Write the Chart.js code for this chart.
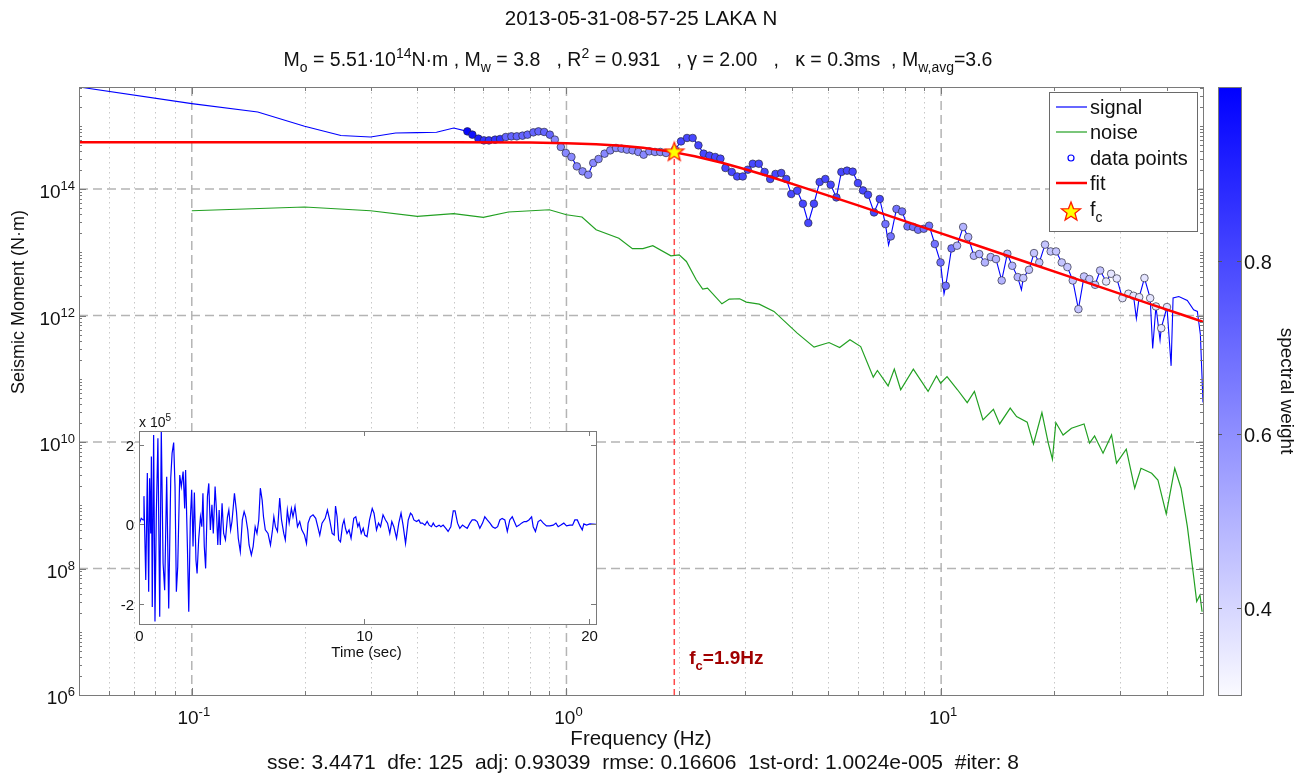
<!DOCTYPE html>
<html>
<head>
<meta charset="utf-8">
<title>2013-05-31-08-57-25 LAKA N</title>
<script src="https://cdn.jsdelivr.net/npm/chart.js@4.4.1/dist/chart.umd.min.js"></script>
<style>
  body { margin: 0; background: #fff; }
  #wrap { position: relative; width: 1307px; height: 774px; }
  #wrap canvas { position: absolute; left: 0; top: 0; }
</style>
</head>
<body>
<div id="wrap">
  <canvas id="spectrum" width="1307" height="774"></canvas>
  <canvas id="inset" width="1307" height="774"></canvas>
</div>
<script>
// ---- text ----
const titleMain = '2013-05-31-08-57-25 LAKA N';
const titleParams = [['M', ''], ['o', 'sub'], [' = 5.51·10', ''], ['14', 'sup'], ['N·m , M', ''], ['w', 'sub'],
  [' = 3.8   , R', ''], ['2', 'sup'], [' = 0.931   , γ = 2.00   ,   κ = 0.3ms  , M', ''], ['w,avg', 'sub'], ['=3.6', '']];
const xTitle = 'Frequency (Hz)';
const yTitle = 'Seismic Moment (N·m)';
const statsLine = 'sse: 3.4471  dfe: 125  adj: 0.93039  rmse: 0.16606  1st-ord: 1.0024e-005  #iter: 8';
const legendLabels = ['signal', 'noise', 'data points', 'fit', 'f'];
const cbTitle = 'spectral weight';
const cornerLabel = '=1.9Hz';

// ---- axes ----
const xMajorTicks = [0.1, 1, 10];
const xMinorTicks = [0.06, 0.07, 0.08, 0.09, 0.2, 0.3, 0.4, 0.5, 0.6, 0.7, 0.8, 0.9,
  2, 3, 4, 5, 6, 7, 8, 9, 20, 30, 40];
const yMajorTicks = [1e6, 1e8, 1e10, 1e12, 1e14];
const cbTicks = [0.4, 0.6, 0.8];
const cbMin = 0.3, cbMax = 1.0;

// ---- signal spectrum (parts not covered by the data points) ----
const signalFreqExtra = [0.05, 0.1, 0.15, 0.2, 0.25, 0.3, 0.35, 0.4, 0.45, 0.5,
  7.24, 10.18, 16.38, 33.2, 36.7, 38.4, 41.1, 41.6, 43.1, 45.4, 47.2, 48.3, 49.2, 50];
const signalMomentExtra = [4.1e15, 2.24e15, 1.65e15, 9.8e14, 7.0e14, 6.65e14, 7.7e14, 7.8e14, 7.9e14, 9.2e14,
  1.3e13, 2.2e12, 2.55e12, 9e11, 3e11, 4.1e11, 1.6e11, 1.9e12, 2.0e12, 1.73e12, 1.23e12, 1.16e12, 5e11, 4.2e10];

// ---- data points used in the fit ----
const pointFreq = [0.544, 0.561, 0.582, 0.602, 0.621, 0.645, 0.665, 0.689, 0.713, 0.737,
  0.763, 0.787, 0.816, 0.842, 0.872, 0.903, 0.931, 0.966, 0.996, 1.031,
  1.066, 1.104, 1.143, 1.179, 1.218, 1.264, 1.309, 1.356, 1.403, 1.450,
  1.501, 1.555, 1.607, 1.664, 1.723, 1.780, 1.844, 1.95, 2.022, 2.098,
  2.172, 2.250, 2.324, 2.407, 2.494, 2.576, 2.657, 2.762, 2.855, 2.955,
  3.048, 3.143, 3.262, 3.379, 3.498, 3.614, 3.744, 3.861, 3.981, 4.130,
  4.276, 4.421, 4.576, 4.740, 4.909, 5.072, 5.253, 5.417, 5.608, 5.807,
  5.999, 6.185, 6.379, 6.622, 6.858, 7.102, 7.338, 7.600, 7.867, 8.133,
  8.418, 8.681, 8.989, 9.288, 9.620, 9.963, 10.29, 10.66, 11.03, 11.45,
  11.81, 12.23, 12.64, 13.09, 13.56, 14.01, 14.51, 15.02, 15.48, 16.01,
  16.57, 17.16, 17.70, 18.28, 18.94, 19.61, 20.27, 20.99, 21.73, 22.46,
  23.25, 24.07, 24.87, 25.76, 26.57, 27.57, 28.43, 29.44, 30.48, 31.62,
  32.62, 33.78, 34.89, 36.14, 37.44, 38.68, 40.07];
const pointMoment = [8.15e14, 7.23e14, 6.25e14, 5.87e14, 5.87e14, 6.03e14, 6.18e14, 6.65e14, 6.8e14, 6.8e14,
  6.97e14, 7.23e14, 7.86e14, 8.15e14, 7.98e14, 7.23e14, 6.03e14, 4.62e14, 3.71e14, 3.21e14,
  2.28e14, 1.90e14, 1.68e14, 2.58e14, 2.98e14, 3.62e14, 4.08e14, 4.45e14, 4.34e14, 4.19e14,
  4.08e14, 3.85e14, 3.49e14, 3.94e14, 3.85e14, 3.85e14, 3.71e14, 4.19e14, 5.66e14, 6.41e14,
  6.41e14, 4.90e14, 3.62e14, 3.37e14, 3.21e14, 3.02e14, 2.15e14, 1.86e14, 1.58e14, 1.58e14,
  2.02e14, 2.51e14, 2.51e14, 1.86e14, 1.44e14, 1.73e14, 1.79e14, 1.44e14, 8.34e13, 9.40e13,
  5.85e13, 2.90e13, 5.85e13, 1.29e14, 1.44e14, 1.17e14, 7.36e13, 1.86e14, 1.95e14, 1.88e14,
  1.24e14, 9.5e13, 8.12e13, 4.26e13, 6.95e13, 2.79e13, 1.78e13, 4.83e13, 4.42e13, 2.56e13,
  2.51e13, 2.27e13, 2.35e13, 2.63e13, 1.35e13, 6.9e12, 2.95e12, 1.15e13, 1.27e13, 2.51e13,
  1.74e13, 8.8e12, 9.37e12, 6.9e12, 8.4e12, 7.8e12, 3.58e12, 9.46e12, 6.11e12, 4.05e12,
  3.91e12, 5.28e12, 9.7e12, 6.9e12, 1.32e13, 1.03e13, 1.03e13, 6.9e12, 5.83e12, 3.58e12,
  1.26e12, 4.14e12, 3.77e12, 3.06e12, 5.15e12, 3.45e12, 4.57e12, 3.85e12, 1.88e12, 2.21e12,
  2.05e12, 1.95e12, 3.91e12, 1.88e12, 1.39e12, 6.3e11, 1.36e12];
const pointWeight = [0.98, 0.95, 0.92, 0.86, 0.86, 0.86, 0.86,
  0.72, 0.72, 0.72, 0.72, 0.72, 0.72, 0.72, 0.72, 0.72,
  0.62, 0.62, 0.62, 0.62, 0.62, 0.62, 0.62, 0.62, 0.62, 0.62, 0.62,
  0.62, 0.62, 0.62, 0.62, 0.62, 0.62, 0.62, 0.62, 0.62, 0.62,
  0.66,
  0.8, 0.8, 0.8, 0.8, 0.8, 0.8, 0.8, 0.8, 0.8, 0.8,
  0.8, 0.8, 0.8, 0.8, 0.8, 0.8, 0.8, 0.8, 0.8, 0.8,
  0.8, 0.8, 0.8, 0.8, 0.8, 0.8, 0.8, 0.8, 0.8, 0.8,
  0.8, 0.8, 0.8, 0.8, 0.8, 0.8, 0.8,
  0.68, 0.68, 0.68, 0.68, 0.68, 0.68, 0.68, 0.68, 0.68, 0.68, 0.68, 0.68, 0.68,
  0.5, 0.5, 0.5, 0.5, 0.5, 0.5, 0.5, 0.5, 0.5, 0.5, 0.5, 0.5,
  0.45, 0.45, 0.45, 0.45, 0.45, 0.45, 0.45, 0.45, 0.45, 0.45, 0.45, 0.45, 0.45, 0.45, 0.45,
  0.36, 0.36, 0.36, 0.36, 0.36, 0.36, 0.36, 0.36, 0.36, 0.36, 0.36, 0.36];

// ---- noise spectrum ----
const noiseFreq = [0.1, 0.2, 0.3, 0.4, 0.5, 0.6, 0.7, 0.9, 1.0, 1.1, 1.2, 1.38, 1.5, 1.6, 1.7, 1.9, 2.0, 2.09,
  2.22, 2.31, 2.38, 2.6, 2.72, 2.9, 3.02, 3.27, 3.58, 4.13, 4.58, 5.02, 5.36, 5.71, 6.1, 6.59, 6.76, 7.22,
  7.5, 7.8, 8.43, 9.23, 9.72, 9.97, 10.37, 11.06, 11.74, 12.27, 12.93, 13.79, 14.33, 15.29, 15.9, 16.97,
  17.64, 18.58, 19.32, 19.82, 20.24, 21.16, 22.28, 24.07, 24.9, 25.68, 27.05, 28.5, 29.39, 31.2, 32.86,
  34.15, 36.47, 37.9, 39.89, 42.03, 43.69, 45.42, 47.22, 48.1, 49.08, 49.72];
const noiseMoment = [4.53e13, 5.19e13, 4.53e13, 3.68e13, 4.07e13, 3.55e13, 4.33e13, 4.7e13, 3.92e13, 3.61e13,
  2.27e13, 1.67e13, 1.14e13, 1.14e13, 1.27e13, 8.8e12, 9.1e12, 7.15e12, 3.67e12, 2.62e12, 2.71e12, 1.53e12,
  1.82e12, 1.84e12, 1.63e12, 1.51e12, 1.16e12, 5.27e11, 3.16e11, 3.74e11, 3.12e11, 4.13e11, 3.23e11, 1.06e11,
  1.35e11, 7.7e10, 1.42e11, 6.7e10, 1.42e11, 6.3e10, 1.11e11, 8.5e10, 1.08e11, 6.7e10, 4.2e10, 6.3e10, 2.24e10,
  3.3e10, 1.93e10, 3.43e10, 2.52e10, 2.06e10, 9.3e9, 2.92e10, 9.6e9, 5.35e9, 2.03e10, 1.29e10, 1.65e10,
  1.93e10, 9.6e9, 1.25e10, 6.65e9, 1.29e10, 4.62e9, 7.7e9, 1.86e9, 3.85e9, 3.2e9, 2.51e9, 7.3e8, 3.85e9,
  1.86e9, 4.6e8, 7.4e7, 3.0e7, 3.8e7, 2.07e7];

// ---- fitted source spectrum ----
const fitFreq = [0.05, 0.2, 0.5, 0.8, 1.0, 1.2, 1.4, 1.6, 1.9, 2.2, 2.6, 3.0, 3.5, 4.2, 5, 6, 8, 10, 13, 17, 22, 28, 36, 44, 50];
const fitMoment = [5.51e14, 5.51e14, 5.50e14, 5.43e14, 5.31e14, 5.12e14, 4.84e14, 4.49e14, 3.90e14, 3.29e14,
  2.60e14, 2.05e14, 1.56e14, 1.10e14, 7.87e13, 5.50e13, 3.10e13, 1.99e13, 1.18e13, 6.88e12, 4.11e12,
  2.54e12, 1.53e12, 1.03e12, 7.95e11];
const cornerFreq = 1.94;
const cornerMoment = 3.81e14;

// ---- inset waveform ----
const waveTime = [0, 0.10, 0.18, 0.22, 0.30, 0.37, 0.43, 0.47, 0.52, 0.55, 0.59, 0.65, 0.71, 0.77, 0.84, 0.92,
  0.99, 1.07, 1.14, 1.23, 1.32, 1.41, 1.47, 1.54, 1.60, 1.66, 1.72, 1.81, 1.88, 1.96, 2.03, 2.07, 2.15, 2.21,
  2.28, 2.34, 2.40, 2.46, 2.53, 2.58, 2.65, 2.73, 2.79, 2.84, 2.90, 2.96, 3.04, 3.10, 3.17, 3.24, 3.30, 3.38,
  3.44, 3.50, 3.56, 3.61, 3.69, 3.76, 3.84, 3.93, 3.99, 4.07, 4.13, 4.24, 4.33, 4.41, 4.50, 4.59, 4.67, 4.74,
  4.83, 4.89, 4.99, 5.07, 5.16, 5.24, 5.32, 5.39, 5.47, 5.53, 5.61, 5.73, 5.84, 5.93, 5.99, 6.06, 6.15, 6.25,
  6.33, 6.43, 6.50, 6.59, 6.67, 6.77, 6.84, 6.93, 7.04, 7.14, 7.23, 7.35, 7.44, 7.51, 7.61, 7.73, 7.85, 7.94,
  8.03, 8.13, 8.27, 8.37, 8.47, 8.58, 8.67, 8.73, 8.80, 8.87, 8.95, 9.04, 9.11, 9.17, 9.24, 9.33, 9.42, 9.54,
  9.63, 9.72, 9.78, 9.87, 9.96, 10.03, 10.13, 10.24, 10.36, 10.44, 10.55, 10.64, 10.73, 10.84, 10.95, 11.04,
  11.14, 11.23, 11.32, 11.44, 11.54, 11.64, 11.73, 11.84, 11.96, 12.06, 12.13, 12.21, 12.33, 12.43, 12.50,
  12.59, 12.70, 12.80, 12.89, 12.99, 13.07, 13.14, 13.21, 13.33, 13.41, 13.51, 13.63, 13.73, 13.85, 13.96,
  14.04, 14.15, 14.25, 14.37, 14.47, 14.58, 14.70, 14.80, 14.92, 15.02, 15.14, 15.26, 15.36, 15.47, 15.59,
  15.70, 15.82, 15.93, 16.03, 16.13, 16.25, 16.36, 16.47, 16.58, 16.67, 16.77, 16.89, 16.99, 17.11, 17.21,
  17.32, 17.44, 17.51, 17.61, 17.73, 17.84, 17.96, 18.10, 18.25, 18.40, 18.52, 18.62, 18.74, 18.87, 18.99,
  19.14, 19.26, 19.36, 19.47, 19.59, 19.69, 19.76, 19.88, 20.03, 20.30];
const waveAmp = [0, 15000, 11000, 71000, -140000, 129000, -170000, 116000, -23000, 171000, -208000, 225000,
  -245000, 28000, 217000, -233000, 238000, -98000, -166000, 120000, -212000, 116000, 179000, 206000, 95000,
  -170000, -107000, 124000, 95000, 133000, 40000, 137000, -56000, -220000, 11000, 87000, -56000, 80000,
  -90000, -124000, -39000, 19000, -6000, 78000, -56000, -111000, 70000, 103000, -14000, 49000, -23000, 95000,
  36000, -52000, 36000, -52000, 53000, -23000, -39000, 19000, 36000, -14000, 7000, 78000, 32000, -35000,
  -69000, 11000, 32000, 19000, -14000, -52000, -77000, -56000, -6000, -23000, 11000, 91000, 61000, 19000,
  -14000, -23000, -52000, -14000, 19000, -6000, -18000, 66000, 11000, -23000, -39000, 36000, 3000, 40000,
  19000, 45000, -6000, 7000, -14000, -27000, -48000, 3000, 19000, 24000, 15000, -6000, -27000, 3000, 15000,
  36000, 11000, -23000, -27000, 46000, 19000, -39000, -44000, -2000, 11000, -10000, -23000, -14000, -35000,
  15000, 19000, -6000, 3000, -23000, -10000, -27000, -31000, 11000, 40000, 28000, -14000, 3000, -6000, 24000,
  11000, 3000, -23000, 7000, -6000, -35000, 3000, 28000, -2000, -48000, 11000, 28000, 24000, 11000, 7000,
  11000, 3000, 3000, -2000, 7000, -2000, -6000, 3000, -4000, -6000, -2000, -6000, -2000, -10000, -18000,
  -6000, 34000, 34000, 3000, -10000, -2000, -6000, -10000, 3000, 11000, 11000, 7000, -10000, 3000, 19000,
  11000, 3000, -6000, -10000, -6000, 11000, 15000, 11000, -18000, 11000, 19000, 7000, -6000, -2000, 3000,
  7000, 7000, 11000, 19000, -6000, -18000, 7000, 11000, 3000, -4000, -4000, -2000, 3000, -6000, -2000, 3000,
  -4000, -2000, -2000, 11000, 11000, -4000, -14000, 1000, -2000, 1000, 0];
const insetXTicks = [0, 10, 20];
const insetYTicks = [-2e5, 0, 2e5];
const insetXTitle = 'Time (sec)';

// ---- helpers ----
const FONT = '"Liberation Sans", Arial, Helvetica, sans-serif';

function drawRich(ctx, segs, x, y, size, align, weight) {
  const w = weight ? weight + ' ' : '';
  const sizeOf = m => (m ? Math.round(size * 0.7) : size);
  let total = 0;
  segs.forEach(([t, m]) => { ctx.font = w + sizeOf(m) + 'px ' + FONT; total += ctx.measureText(t).width; });
  let cx = align === 'center' ? x - total / 2 : align === 'right' ? x - total : x;
  ctx.textAlign = 'left';
  ctx.textBaseline = 'alphabetic';
  segs.forEach(([t, m]) => {
    ctx.font = w + sizeOf(m) + 'px ' + FONT;
    const dy = m === 'sub' ? size * 0.32 : m === 'sup' ? -size * 0.42 : 0;
    ctx.fillText(t, cx, y + dy);
    cx += ctx.measureText(t).width;
  });
}

function seg(ctx, x1, y1, x2, y2) {
  ctx.beginPath(); ctx.moveTo(x1, y1); ctx.lineTo(x2, y2); ctx.stroke();
}

function weightColor(w) {
  const t = Math.min(1, Math.max(0, (w - cbMin) / (cbMax - cbMin)));
  const c = Math.round(250 * (1 - t));
  return `rgb(${c},${c},255)`;
}

function makeStar(r) {
  const c = document.createElement('canvas');
  const s = Math.ceil(r * 2 + 4);
  c.width = s; c.height = s;
  const g = c.getContext('2d');
  g.beginPath();
  for (let i = 0; i < 10; i++) {
    const rad = i % 2 ? r * 0.42 : r;
    const ang = -Math.PI / 2 + i * Math.PI / 5;
    g.lineTo(s / 2 + rad * Math.cos(ang), s / 2 + rad * Math.sin(ang));
  }
  g.closePath();
  g.fillStyle = '#ffff00'; g.fill();
  g.strokeStyle = '#ff1a00'; g.lineWidth = 1.3; g.stroke();
  return c;
}
const starImg = makeStar(10);

const toXY = (xs, ys) => xs.map((v, i) => ({ x: v, y: ys[i] }));

// signal line = low-frequency part + data points + extra wiggles, sorted by frequency
const signalData = toXY(signalFreqExtra, signalMomentExtra)
  .concat(toXY(pointFreq, pointMoment))
  .sort((a, b) => a.x - b.x);

// minor tick positions for the log y axis
const yMinorTicks = [];
for (let e = 6; e <= 15; e++) for (let k = 1; k <= 9; k++) yMinorTicks.push(k * Math.pow(10, e));

// ---- main chart decorations ----
const spectrumDecor = {
  id: 'spectrumDecor',
  beforeDatasetsDraw(chart) {
    const { ctx, chartArea: a, scales: { x, y } } = chart;
    ctx.save();
    ctx.strokeStyle = '#c8c8c8';
    ctx.lineWidth = 1;
    ctx.setLineDash([1.5, 3.5]);
    xMinorTicks.forEach(v => { const px = Math.round(x.getPixelForValue(v)) + 0.5; seg(ctx, px, a.top, px, a.bottom); });
    ctx.strokeStyle = '#b4b4b4';
    ctx.lineWidth = 1.5;
    ctx.setLineDash([9, 5]);
    xMajorTicks.forEach(v => { const px = x.getPixelForValue(v); seg(ctx, px, a.top, px, a.bottom); });
    yMajorTicks.forEach(v => {
      const py = y.getPixelForValue(v);
      if (py > a.top + 1 && py < a.bottom - 1) seg(ctx, a.left, py, a.right, py);
    });
    ctx.restore();
  },
  afterDraw(chart) {
    const { ctx, chartArea: a, scales: { x, y } } = chart;
    ctx.save();
    // axis box and inward ticks
    ctx.strokeStyle = '#7a7a7a';
    ctx.lineWidth = 1;
    ctx.strokeRect(a.left + 0.5, a.top + 0.5, a.right - a.left, a.bottom - a.top);
    xMajorTicks.concat(xMinorTicks).forEach(v => {
      const px = Math.round(x.getPixelForValue(v)) + 0.5;
      const len = xMajorTicks.includes(v) ? 7 : 4;
      seg(ctx, px, a.bottom, px, a.bottom - len);
      seg(ctx, px, a.top, px, a.top + len);
    });
    yMinorTicks.forEach(v => {
      const py = y.getPixelForValue(v);
      if (py <= a.top || py >= a.bottom) return;
      const len = yMajorTicks.includes(v) ? 7 : 3;
      seg(ctx, a.left, Math.round(py) + 0.5, a.left + len, Math.round(py) + 0.5);
      seg(ctx, a.right, Math.round(py) + 0.5, a.right - len, Math.round(py) + 0.5);
    });

    // tick labels
    ctx.fillStyle = '#111';
    xMajorTicks.forEach(v => {
      const e = Math.round(Math.log10(v));
      drawRich(ctx, [['10', ''], [String(e), 'sup']], x.getPixelForValue(v) + 2, a.bottom + 29, 19, 'center');
    });
    yMajorTicks.forEach(v => {
      const e = Math.round(Math.log10(v));
      drawRich(ctx, [['10', ''], [String(e), 'sup']], a.left - 4, y.getPixelForValue(v) + 9, 19, 'right');
    });

    // titles and axis labels
    drawRich(ctx, [[titleMain, '']], 641, 25, 20.5, 'center');
    drawRich(ctx, titleParams, 638, 66, 19.5, 'center');
    drawRich(ctx, [[xTitle, '']], 641, 745, 20.5, 'center');
    drawRich(ctx, [[statsLine, '']], 643, 769, 21, 'center');
    ctx.save();
    ctx.translate(24, 302);
    ctx.rotate(-Math.PI / 2);
    drawRich(ctx, [[yTitle, '']], 0, 0, 18, 'center');
    ctx.restore();

    // corner frequency label
    ctx.fillStyle = '#a00000';
    drawRich(ctx, [['f', ''], ['c', 'sub'], [cornerLabel, '']], x.getPixelForValue(cornerFreq) + 15, 664, 19, 'left', 'bold');

    // legend
    const lx = 1049.5, ly = 92.5, lw = 148, lh = 139;
    ctx.fillStyle = '#fff';
    ctx.fillRect(lx, ly, lw, lh);
    ctx.strokeStyle = '#6a6a6a';
    ctx.lineWidth = 1;
    ctx.strokeRect(lx, ly, lw, lh);
    const rows = [107, 132, 158, 183, 209];
    ctx.lineWidth = 1.2;
    ctx.strokeStyle = '#0000ff'; seg(ctx, 1056, rows[0], 1087, rows[0]);
    ctx.strokeStyle = '#22a022'; seg(ctx, 1056, rows[1], 1087, rows[1]);
    ctx.strokeStyle = '#0000ff';
    ctx.beginPath(); ctx.arc(1071, rows[2], 3, 0, Math.PI * 2); ctx.stroke();
    ctx.strokeStyle = '#ff0000'; ctx.lineWidth = 2.5; seg(ctx, 1056, rows[3], 1087, rows[3]);
    ctx.drawImage(starImg, 1071 - starImg.width / 2, rows[4] + 3 - starImg.height / 2);
    ctx.fillStyle = '#111';
    legendLabels.forEach((t, i) => {
      const segs = i === 4 ? [[t, ''], ['c', 'sub']] : [[t, '']];
      drawRich(ctx, segs, 1090, rows[i] + 7, 20, 'left');
    });

    // colorbar
    const cx0 = 1218, cx1 = 1241, cy0 = a.top, cy1 = a.bottom;
    const grad = ctx.createLinearGradient(0, cy1, 0, cy0);
    grad.addColorStop(0, weightColor(cbMin));
    grad.addColorStop(1, weightColor(cbMax));
    ctx.fillStyle = grad;
    ctx.fillRect(cx0, cy0, cx1 - cx0, cy1 - cy0);
    ctx.strokeStyle = '#7a7a7a';
    ctx.lineWidth = 1;
    ctx.strokeRect(cx0 + 0.5, cy0 + 0.5, cx1 - cx0, cy1 - cy0);
    const cbY = v => cy1 - (v - cbMin) / (cbMax - cbMin) * (cy1 - cy0);
    ctx.fillStyle = '#111';
    cbTicks.forEach(v => {
      const py = Math.round(cbY(v)) + 0.5;
      ctx.strokeStyle = '#555';
      seg(ctx, cx0, py, cx0 + 4, py);
      seg(ctx, cx1, py, cx1 - 4, py);
      drawRich(ctx, [[v.toFixed(1), '']], cx1 + 3, py + 7, 20, 'left');
    });
    ctx.save();
    ctx.translate(1281, 391);
    ctx.rotate(Math.PI / 2);
    drawRich(ctx, [[cbTitle, '']], 0, 0, 19, 'center');
    ctx.restore();
    ctx.restore();
  }
};

new Chart(document.getElementById('spectrum'), {
  type: 'scatter',
  data: {
    datasets: [
      { label: 'fc', data: [{ x: cornerFreq, y: cornerMoment }], pointStyle: starImg, pointRadius: 10, showLine: false },
      { label: 'fit', data: toXY(fitFreq, fitMoment), showLine: true, borderColor: '#ff0000', borderWidth: 2.5, pointRadius: 0 },
      { label: 'data points', data: toXY(pointFreq, pointMoment), showLine: false, pointRadius: 3.8,
        pointBackgroundColor: pointWeight.map(weightColor), pointBorderColor: 'rgba(40,40,60,0.85)', pointBorderWidth: 0.8 },
      { label: 'signal', data: signalData, showLine: true, borderColor: '#0000ff', borderWidth: 1.1, pointRadius: 0 },
      { label: 'noise', data: toXY(noiseFreq, noiseMoment), showLine: true, borderColor: '#22a022', borderWidth: 1.2, pointRadius: 0 },
      { label: 'fc line', data: [{ x: cornerFreq, y: 1e6 }, { x: cornerFreq, y: cornerMoment }], showLine: true,
        borderColor: '#ff4a4a', borderWidth: 1.5, borderDash: [6, 4], pointRadius: 0 }
    ]
  },
  options: {
    responsive: false,
    animation: false,
    layout: { padding: { left: 79, right: 104, top: 87, bottom: 79 } },
    scales: {
      x: { type: 'logarithmic', min: 0.05, max: 50, display: false },
      y: { type: 'logarithmic', min: 1e6, max: 4.1e15, display: false }
    },
    plugins: { legend: { display: false }, tooltip: { enabled: false } }
  },
  plugins: [spectrumDecor]
});

// ---- inset: time series ----
const insetDecor = {
  id: 'insetDecor',
  beforeDatasetsDraw(chart) {
    const { ctx, chartArea: a } = chart;
    ctx.save();
    ctx.fillStyle = '#fff';
    ctx.fillRect(a.left, a.top, a.right - a.left, a.bottom - a.top);
    ctx.restore();
  },
  afterDraw(chart) {
    const { ctx, chartArea: a, scales: { x, y } } = chart;
    ctx.save();
    ctx.strokeStyle = '#7a7a7a';
    ctx.lineWidth = 1;
    ctx.strokeRect(a.left + 0.5, a.top + 0.5, a.right - a.left, a.bottom - a.top);
    ctx.fillStyle = '#111';
    insetXTicks.forEach(v => {
      const px = Math.round(x.getPixelForValue(v)) + 0.5;
      seg(ctx, px, a.bottom, px, a.bottom - 5);
      seg(ctx, px, a.top, px, a.top + 5);
      drawRich(ctx, [[String(v), '']], px, a.bottom + 17, 15, 'center');
    });
    insetYTicks.forEach(v => {
      const py = Math.round(y.getPixelForValue(v)) + 0.5;
      seg(ctx, a.left, py, a.left + 5, py);
      seg(ctx, a.right, py, a.right - 5, py);
      drawRich(ctx, [[String(v / 1e5), '']], a.left - 5, py + 5, 15, 'right');
    });
    drawRich(ctx, [[insetXTitle, '']], (a.left + a.right) / 2 - 1, a.bottom + 33, 15, 'center');
    drawRich(ctx, [['x 10', ''], ['5', 'sup']], a.left, a.top - 4, 14, 'left');
    ctx.restore();
  }
};

new Chart(document.getElementById('inset'), {
  type: 'scatter',
  data: {
    datasets: [{ label: 'waveform', data: toXY(waveTime, waveAmp), showLine: true, borderColor: '#0000ff',
      borderWidth: 1.2, pointRadius: 0, clip: 0 }]
  },
  options: {
    responsive: false,
    animation: false,
    layout: { padding: { left: 139, right: 711, top: 431, bottom: 150 } },
    scales: {
      x: { type: 'linear', min: 0, max: 20.3, display: false },
      y: { type: 'linear', min: -2.51e5, max: 2.35e5, display: false }
    },
    plugins: { legend: { display: false }, tooltip: { enabled: false } }
  },
  plugins: [insetDecor]
});
</script>
</body>
</html>
